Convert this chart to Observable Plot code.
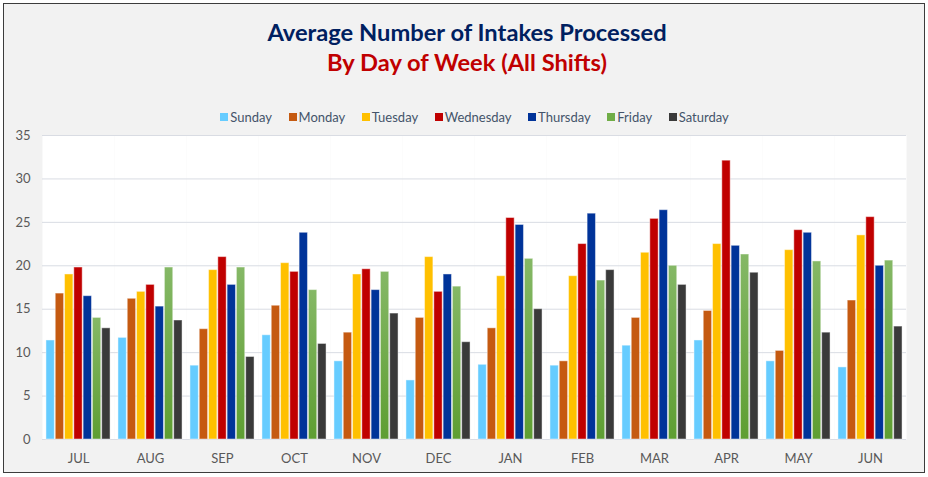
<!DOCTYPE html>
<html>
<head>
<meta charset="utf-8">
<script src="https://cdn.jsdelivr.net/npm/d3@7"></script>
<script src="https://cdn.jsdelivr.net/npm/@observablehq/plot@0.6"></script>
<style>
  body { margin: 0; background: #ffffff; width: 928px; height: 477px; overflow: hidden; position: relative; font-family: Lato, "Noto Sans", sans-serif; }
  #frame { position: absolute; left: 3px; top: 3px; width: 920px; height: 468px; border: 1.5px solid #3c3c3c; background: #f2f2f2; }
  .title { position: absolute; left: 0; width: 934px; text-align: center; font-weight: 700; font-size: 23.7px; line-height: 23.7px; white-space: nowrap; }
  #t1 { top: 21px; color: #002060; }
  #t2 { top: 51px; color: #c00000; }
  #legend { position: absolute; left: 0; width: 949px; top: 110.8px; display: flex; justify-content: center; gap: 16.5px; font-size: 13px; line-height: 13px; color: #44546a; }
  #legend .item { display: flex; align-items: center; gap: 2px; white-space: nowrap; }
  #legend .sw { width: 8px; height: 8px; display: inline-block; }
  #chart { position: absolute; left: 0; top: 125px; }
</style>
</head>
<body>
<div id="frame"></div>
<div class="title" id="t1">Average Number of Intakes Processed</div>
<div class="title" id="t2">By Day of Week (All Shifts)</div>
<div id="legend"></div>
<div id="chart"></div>
<script>
const months = ["JUL","AUG","SEP","OCT","NOV","DEC","JAN","FEB","MAR","APR","MAY","JUN"];
const days = ["Sunday","Monday","Tuesday","Wednesday","Thursday","Friday","Saturday"];
const dayColors = ["#66ccff","#c55a11","#ffc000","#c00000","#003399","#70ad47","#3a3a3a"];
const yTicks = [0,5,10,15,20,25,30,35];

// values per day, one per month (JUL..JUN)
const sunday    = [11.4, 11.7,  8.5, 12.0,  9.0,  6.8,  8.6,  8.5, 10.8, 11.4,  9.0,  8.3];
const monday    = [16.8, 16.2, 12.7, 15.4, 12.3, 14.0, 12.8,  9.0, 14.0, 14.8, 10.2, 16.0];
const tuesday   = [19.0, 17.0, 19.5, 20.3, 19.0, 21.0, 18.8, 18.8, 21.5, 22.5, 21.8, 23.5];
const wednesday = [19.8, 17.8, 21.0, 19.3, 19.6, 17.0, 25.5, 22.5, 25.4, 32.1, 24.1, 25.6];
const thursday  = [16.5, 15.3, 17.8, 23.8, 17.2, 19.0, 24.7, 26.0, 26.4, 22.3, 23.8, 20.0];
const friday    = [14.0, 19.8, 19.8, 17.2, 19.3, 17.6, 20.8, 18.3, 20.0, 21.3, 20.5, 20.6];
const saturday  = [12.8, 13.7,  9.5, 11.0, 14.5, 11.2, 15.0, 19.5, 17.8, 19.2, 12.3, 13.0];

const series = [sunday, monday, tuesday, wednesday, thursday, friday, saturday];
const data = [];
months.forEach((m, i) => {
  days.forEach((d, j) => data.push({month: m, day: d, value: series[j][i]}));
});

// legend
const legend = document.getElementById("legend");
days.forEach((d, j) => {
  const it = document.createElement("div");
  it.className = "item";
  const sw = document.createElement("span");
  sw.className = "sw";
  sw.style.background = dayColors[j];
  const tx = document.createElement("span");
  tx.textContent = d;
  it.appendChild(sw); it.appendChild(tx);
  legend.appendChild(it);
});

const fillRange = dayColors.map((c, j) => days[j] === "Friday" ? "url(#friGrad)" : c);

const plot = Plot.plot({
  width: 928,
  height: 352,
  marginLeft: 40,
  marginRight: 21,
  marginTop: 10,
  marginBottom: 38,
  style: { fontFamily: "Lato, 'Noto Sans', sans-serif", fontSize: "13px", background: "transparent", color: "#595959" },
  fx: { domain: months, padding: 0, label: null, tickSize: 0, tickPadding: 14, axis: "bottom" },
  x: { domain: days, paddingInner: 0.1, paddingOuter: 0.426, axis: null, round: false },
  y: { domain: [0, 35], ticks: yTicks, label: null, tickSize: 0, tickPadding: 12 },
  color: { domain: days, range: fillRange },
  marks: [
    Plot.frame({ fill: "white", stroke: "none" }),
    Plot.gridY(yTicks, { stroke: "#d9dce3", strokeOpacity: 1, strokeWidth: 1 }),
    Plot.barY(data, { fx: "month", x: "day", y: "value", fill: "day", stroke: "white", strokeOpacity: 0.45, strokeWidth: 1 })
  ]
});

// gradient for Friday bars
const ns = "http://www.w3.org/2000/svg";
const defs = document.createElementNS(ns, "defs");
const grad = document.createElementNS(ns, "linearGradient");
grad.setAttribute("id", "friGrad");
grad.setAttribute("x1", "0"); grad.setAttribute("y1", "0");
grad.setAttribute("x2", "0"); grad.setAttribute("y2", "1");
[["0%", "#85b866"], ["100%", "#5e9e32"]].forEach(([o, c]) => {
  const s = document.createElementNS(ns, "stop");
  s.setAttribute("offset", o); s.setAttribute("stop-color", c);
  grad.appendChild(s);
});
defs.appendChild(grad);
const svgEl = plot.tagName.toLowerCase() === "svg" ? plot : plot.querySelector("svg");
svgEl.insertBefore(defs, svgEl.firstChild);

document.getElementById("chart").appendChild(plot);
</script>
</body>
</html>
